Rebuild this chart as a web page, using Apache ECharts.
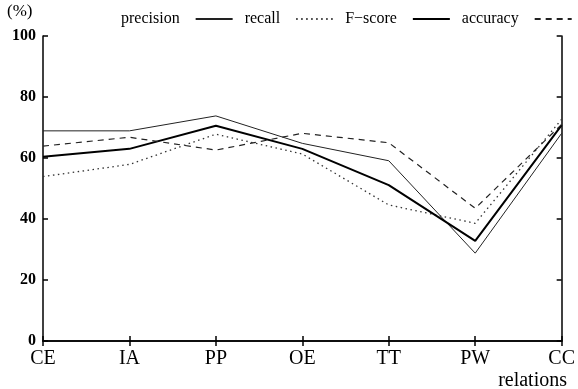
<!DOCTYPE html>
<html>
<head>
<meta charset="utf-8">
<script src="https://cdn.jsdelivr.net/npm/echarts@6/dist/echarts.min.js"></script>
<style>
  html, body { margin: 0; padding: 0; background: #fff; }
  #chart { width: 578px; height: 389px; }
</style>
</head>
<body>
<div id="chart"></div>
<script>
const relations = ['CE', 'IA', 'PP', 'OE', 'TT', 'PW', 'CC'];
const precision = [68.9, 68.9, 73.8, 64.8, 59.1, 28.8, 68.1];
const recall = [53.9, 57.9, 67.8, 61.3, 44.6, 38.6, 72.7];
const fScore = [60.4, 63.0, 70.6, 63.0, 51.1, 32.8, 70.8];
const accuracy = [63.9, 66.8, 62.6, 68.1, 65.0, 43.5, 71.0];
const yTicks = [0, 20, 40, 60, 80, 100];

const FONT = 'Liberation Serif, Times New Roman, serif';
const chart = echarts.init(document.getElementById('chart'));

const axisLine = { show: true, lineStyle: { color: '#000', width: 1.5 } };
const tickIn = { show: true, inside: true, length: 5, lineStyle: { color: '#000', width: 1.5 } };

// gnuplot style: every series drawn in black, told apart by line style only
function line(name, data, width, type, color) {
    return {
        name: name,
        type: 'line',
        data: data,
        symbol: 'none',
        animation: false,
        lineStyle: { color: color, width: width, type: type },
        itemStyle: { color: color }
    };
}

const options = {
    animation: false,
    grid: { left: 43, right: 12, top: 36, bottom: 48 },
    legend: {
        left: 116,
        top: 6,
        align: 'right',
        itemWidth: 37,
        itemHeight: 14,
        itemGap: 11,
        itemStyle: { opacity: 0 },
        textStyle: { fontFamily: FONT, fontSize: 16, color: '#000', padding: [0, 11, 0, 0] },
        data: ['precision', 'recall', 'F\u2212score', 'accuracy']
    },
    graphic: [
        { type: 'text', left: 7, top: 3, style: { text: '(%)', font: '17px ' + FONT, fill: '#000' } },
        { type: 'text', right: 11, top: 371, style: { text: 'relations', font: '20px ' + FONT, fill: '#000' } }
    ],
    xAxis: [{
        type: 'category',
        data: relations,
        boundaryGap: false,
        axisLine: axisLine,
        axisTick: tickIn,
        axisLabel: { fontFamily: FONT, fontSize: 20, color: '#000', margin: 8 },
        splitLine: { show: false }
    }, {
        type: 'category',
        data: relations,
        position: 'top',
        boundaryGap: false,
        axisLine: axisLine,
        axisTick: tickIn,
        axisLabel: { show: false },
        splitLine: { show: false }
    }],
    yAxis: [{
        type: 'value',
        min: yTicks[0],
        max: yTicks[yTicks.length - 1],
        interval: 20,
        axisLine: axisLine,
        axisTick: tickIn,
        axisLabel: { fontFamily: FONT, fontSize: 16, fontWeight: 'bold', color: '#000', margin: 7 },
        splitLine: { show: false }
    }, {
        type: 'value',
        position: 'right',
        min: yTicks[0],
        max: yTicks[yTicks.length - 1],
        interval: 20,
        axisLine: axisLine,
        axisTick: tickIn,
        axisLabel: { show: false },
        splitLine: { show: false }
    }],
    series: [
        line('precision', precision, 1, 'solid', '#222'),
        line('recall', recall, 1.3, [1.5, 3.5], '#333'),
        line('F\u2212score', fScore, 2, 'solid', '#000'),
        line('accuracy', accuracy, 1.2, [6, 5], '#222')
    ]
};

chart.setOption(options);
</script>
</body>
</html>
